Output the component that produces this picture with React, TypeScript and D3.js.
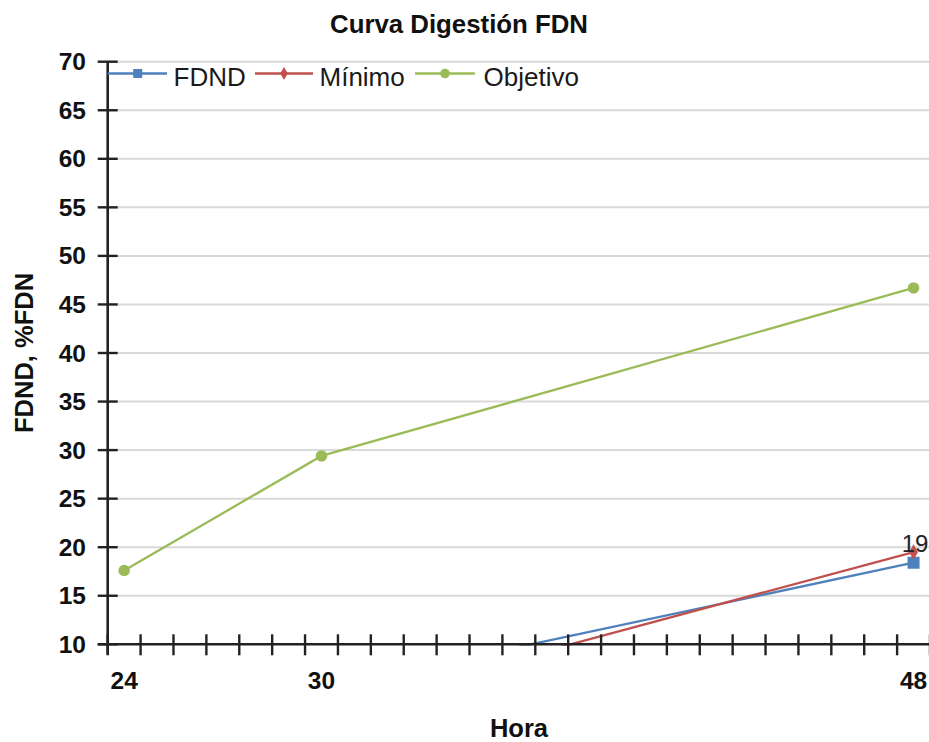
import React from "react";
import * as d3 from "d3";

const title = "Curva Digestión FDN";
const xTitle = "Hora";
const yTitle = "FDND, %FDN";
const xLabels = [24, 30, 48];
const yTicks = [10, 15, 20, 25, 30, 35, 40, 45, 50, 55, 60, 65, 70];
const fdndHours = [30, 48];
const fdndValues = [5.4, 18.4];
const minimoHours = [30, 48];
const minimoValues = [3.1, 19.5];
const objetivoHours = [24, 30, 48];
const objetivoValues = [17.6, 29.4, 46.7];
const seriesNames = ["FDND", "Mínimo", "Objetivo"];
const seriesColors = ["#4f81bd", "#c0504d", "#9bbb59"];
const dataLabelText = "19";

const W = 929;
const H = 742;
const left = 107.7;
const right = 930;
const top = 61.7;
const bottom = 644.3;
const FONT = "'Liberation Sans', Arial, sans-serif";

export default function App() {
  const x = d3.scaleLinear().domain([23.5, 48.5]).range([left, right]);
  const y = d3.scaleLinear().domain([10, 70]).range([bottom, top]);
  const minorTicks = d3.range(23.5, 48.6, 1);
  const line = d3
    .line<[number, number]>()
    .x((d) => x(d[0]))
    .y((d) => y(d[1]));

  const fdnd = fdndHours.map((h, i) => [h, fdndValues[i]] as [number, number]);
  const minimo = minimoHours.map((h, i) => [h, minimoValues[i]] as [number, number]);
  const objetivo = objetivoHours.map((h, i) => [h, objetivoValues[i]] as [number, number]);

  const diamond = d3.symbol().type(d3.symbolDiamond).size(70)() as string;
  const diamondLeg = d3.symbol().type(d3.symbolDiamond).size(50)() as string;

  const legendY = 73.5;
  const legendItems = [
    { x0: left, x1: 167, mx: 137.7, tx: 173.5 },
    { x0: 255, x1: 313, mx: 284, tx: 319.5 },
    { x0: 415, x1: 475, mx: 445, tx: 483.5 },
  ];

  const last = (arr: [number, number][]) => arr[arr.length - 1];

  return (
    <svg
      width={W}
      height={H}
      style={{ position: "absolute", left: 0, top: 0, background: "#fff" }}
      fontFamily={FONT}
    >
      <defs>
        <clipPath id="plot">
          <rect x={left} y={top} width={right - left} height={bottom - top + 1.5} />
        </clipPath>
      </defs>
      <rect x={0} y={0} width={W} height={H} fill="#fff" />

      {/* gridlines */}
      {yTicks
        .filter((t) => t > 10)
        .map((t) => (
          <line key={t} x1={left} x2={W} y1={y(t)} y2={y(t)} stroke="#d9d9d9" strokeWidth={2} />
        ))}

      {/* title */}
      <text x={459} y={32.5} textAnchor="middle" fontWeight="bold" fontSize={25.8} fill="#111">
        {title}
      </text>

      {/* series lines */}
      <g clipPath="url(#plot)" fill="none" strokeWidth={2.3}>
        <path d={line(fdnd) as string} stroke={seriesColors[0]} />
        <path d={line(minimo) as string} stroke={seriesColors[1]} />
        <path d={line(objetivo) as string} stroke={seriesColors[2]} />
      </g>

      {/* axes */}
      <line x1={left} x2={left} y1={top} y2={bottom + 10} stroke="#222" strokeWidth={2.6} />
      <line x1={left - 10} x2={W} y1={bottom} y2={bottom} stroke="#222" strokeWidth={2.6} />
      {yTicks.map((t) => (
        <line key={t} x1={left - 10} x2={left + 10} y1={y(t)} y2={y(t)} stroke="#222" strokeWidth={2.4} />
      ))}
      {minorTicks.map((t) => (
        <line key={t} x1={x(t)} x2={x(t)} y1={bottom - 10} y2={bottom + 11} stroke="#222" strokeWidth={2.4} />
      ))}

      {/* markers */}
      {objetivo.map((d, i) => (
        <circle key={i} cx={x(d[0])} cy={y(d[1])} r={5.8} fill={seriesColors[2]} />
      ))}
      <rect
        x={x(last(fdnd)[0]) - 6}
        y={y(last(fdnd)[1]) - 6}
        width={12}
        height={12}
        fill={seriesColors[0]}
      />
      <path d={diamond} transform={`translate(${x(last(minimo)[0])},${y(last(minimo)[1])})`} fill={seriesColors[1]} />
      <text
        x={x(last(minimo)[0]) + 1.5}
        y={y(last(minimo)[1])}
        textAnchor="middle"
        fontSize={24}
        fill="#222"
      >
        {dataLabelText}
      </text>

      {/* y tick labels */}
      {yTicks.map((t) => (
        <text key={t} x={86} y={y(t)} dy="0.35em" textAnchor="end" fontWeight="bold" fontSize={24.5} fill="#111">
          {t}
        </text>
      ))}
      {/* x labels */}
      {xLabels.map((t) => (
        <text key={t} x={x(t)} y={688.5} textAnchor="middle" fontWeight="bold" fontSize={24.5} fill="#111">
          {t}
        </text>
      ))}

      {/* axis titles */}
      <text x={519} y={737} textAnchor="middle" fontWeight="bold" fontSize={25.5} fill="#111">
        {xTitle}
      </text>
      <text
        transform="translate(33,353) rotate(-90)"
        textAnchor="middle"
        fontWeight="bold"
        fontSize={25.5}
        fill="#111"
      >
        {yTitle}
      </text>

      {/* legend */}
      {legendItems.map((it, i) => (
        <g key={i}>
          <line x1={it.x0} x2={it.x1} y1={legendY} y2={legendY} stroke={seriesColors[i]} strokeWidth={2.6} />
          {i === 0 && <rect x={it.mx - 4.5} y={legendY - 4.5} width={9} height={9} fill={seriesColors[0]} />}
          {i === 1 && <path d={diamondLeg} transform={`translate(${it.mx},${legendY})`} fill={seriesColors[1]} />}
          {i === 2 && <circle cx={it.mx} cy={legendY} r={4.8} fill={seriesColors[2]} />}
          <text x={it.tx} y={86} fontSize={26} fill="#1a1a1a">
            {seriesNames[i]}
          </text>
        </g>
      ))}
    </svg>
  );
}
